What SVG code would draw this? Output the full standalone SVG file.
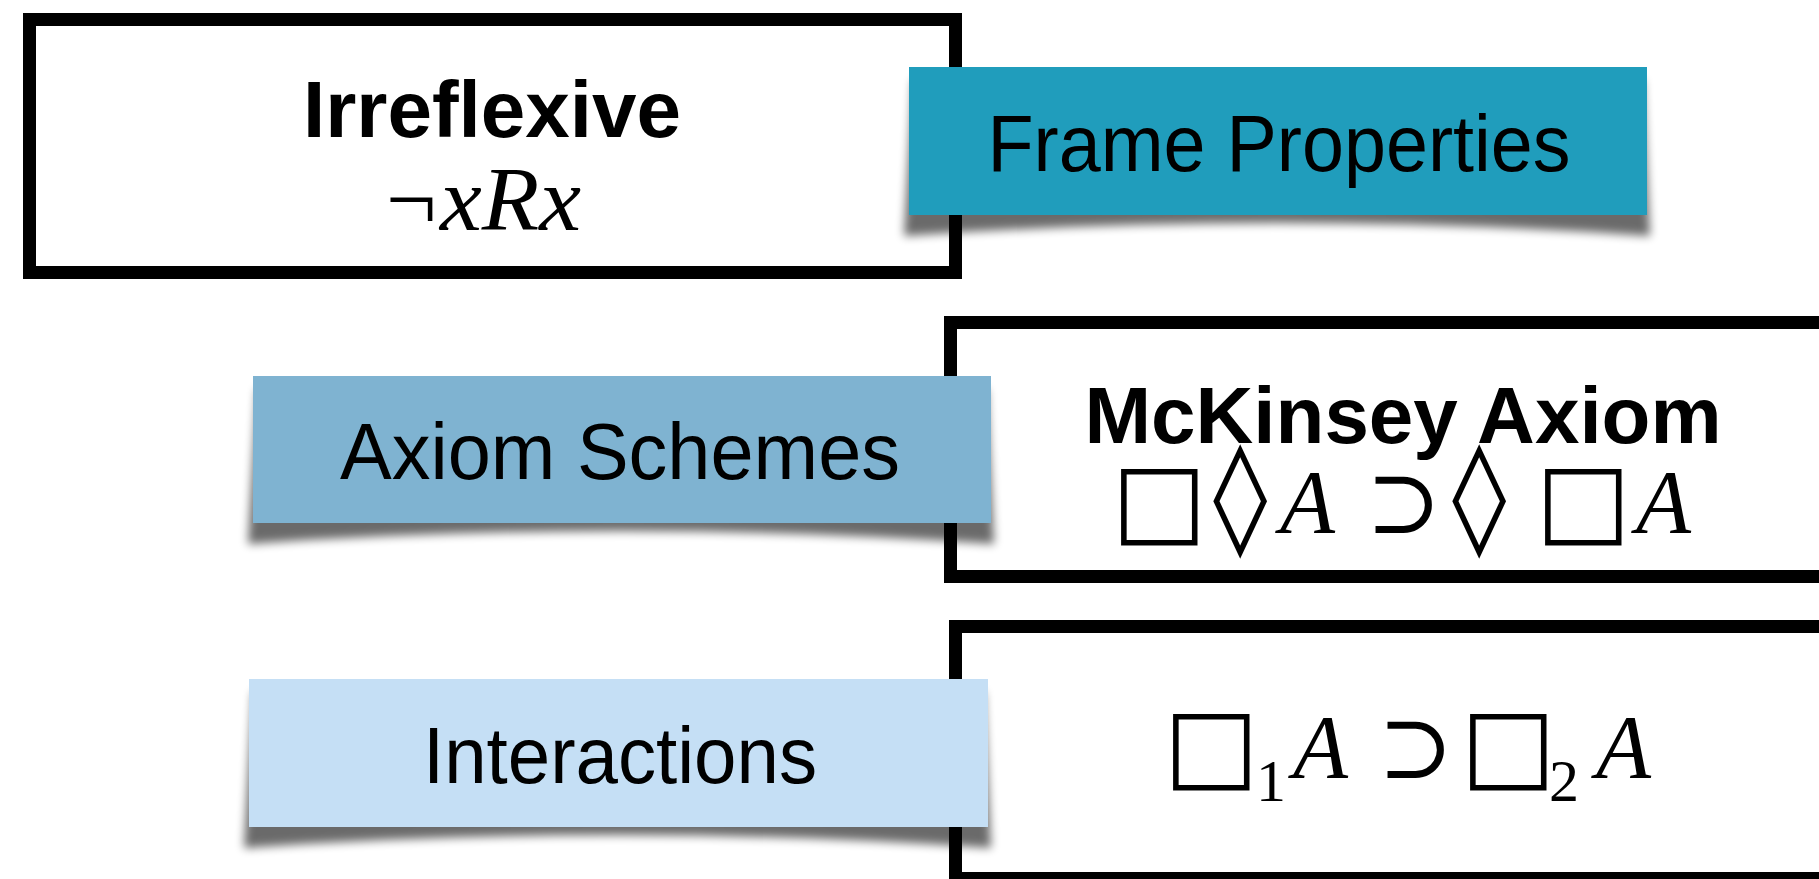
<svg xmlns="http://www.w3.org/2000/svg" width="1819" height="879" viewBox="0 0 1819 879">
<defs>
<filter id="blur" x="-10%" y="-50%" width="120%" height="200%"><feGaussianBlur stdDeviation="5"/></filter>
<style>
.frame{fill:#fff;stroke:#000;stroke-width:13}
.shadow{fill:#000;opacity:.58;filter:url(#blur)}
.lbl{font-family:"Liberation Sans",Arial,sans-serif;font-size:80px;fill:#000;text-anchor:middle}
.bold{font-family:"Liberation Sans",Arial,sans-serif;font-size:80px;font-weight:bold;fill:#000;text-anchor:middle}
.math{font-family:"Liberation Serif","Times New Roman",serif;font-size:90px;fill:#000}
.it{font-style:italic}
.sym{font-family:"DejaVu Sans",sans-serif}
.sup{font-family:"DejaVu Serif",serif}
</style>
</defs>
<rect width="1819" height="879" fill="#fff"/>
<g id="irreflexive">
<rect class="frame" x="29.5" y="19.5" width="926" height="253"/>
<text class="bold" x="492" y="137">Irreflexive</text>
<text class="math" y="230" font-size="88"><tspan x="386">¬</tspan><tspan class="it" x="440" textLength="141" lengthAdjust="spacingAndGlyphs">xRx</tspan></text>
</g>
<g id="mckinsey">
<rect class="frame" x="950.5" y="322.5" width="1000" height="254"/>
<text class="bold" x="1403" y="443">McKinsey Axiom</text>
<text class="math" y="533"><tspan class="sym" x="1112" font-size="100">□</tspan><tspan class="sym" x="1213" font-size="110">◊</tspan><tspan class="it" x="1280">A</tspan><tspan class="sup" x="1366">⊃</tspan><tspan class="sym" x="1452" font-size="110">◊</tspan><tspan class="sym" x="1536" font-size="100">□</tspan><tspan class="it" x="1636">A</tspan></text>
</g>
<g id="interaction-formula">
<rect class="frame" x="955.5" y="626.5" width="1000" height="252"/>
<text class="math" y="778"><tspan class="sym" x="1164" font-size="100">□</tspan><tspan x="1256" y="801" font-size="60">1</tspan><tspan class="it" x="1293" y="778">A</tspan><tspan class="sup" x="1378">⊃</tspan><tspan class="sym" x="1461" font-size="100">□</tspan><tspan x="1549" y="801" font-size="60">2</tspan><tspan class="it" x="1596" y="778">A</tspan></text>
</g>
<g id="frame-properties">
<path class="shadow" d="M913 80 L1643 80 L1650 236 Q1278 210 904 236 Z"/>
<rect x="909" y="67" width="738" height="148" fill="#209dbc"/>
<text class="lbl" x="1279" y="171" textLength="583" lengthAdjust="spacingAndGlyphs">Frame Properties</text>
</g>
<g id="axiom-schemes">
<path class="shadow" d="M257 389 L987 389 L994 544 Q622 518 248 544 Z"/>
<rect x="253" y="376" width="738" height="147" fill="#7fb3d1"/>
<text class="lbl" x="620" y="479" textLength="560" lengthAdjust="spacingAndGlyphs">Axiom Schemes</text>
</g>
<g id="interactions">
<path class="shadow" d="M253 692 L984 692 L991 848 Q618 822 244 848 Z"/>
<rect x="249" y="679" width="739" height="148" fill="#c5dff5"/>
<text class="lbl" x="620" y="783" textLength="394" lengthAdjust="spacingAndGlyphs">Interactions</text>
</g>
<g id="connectors"/>
</svg>
